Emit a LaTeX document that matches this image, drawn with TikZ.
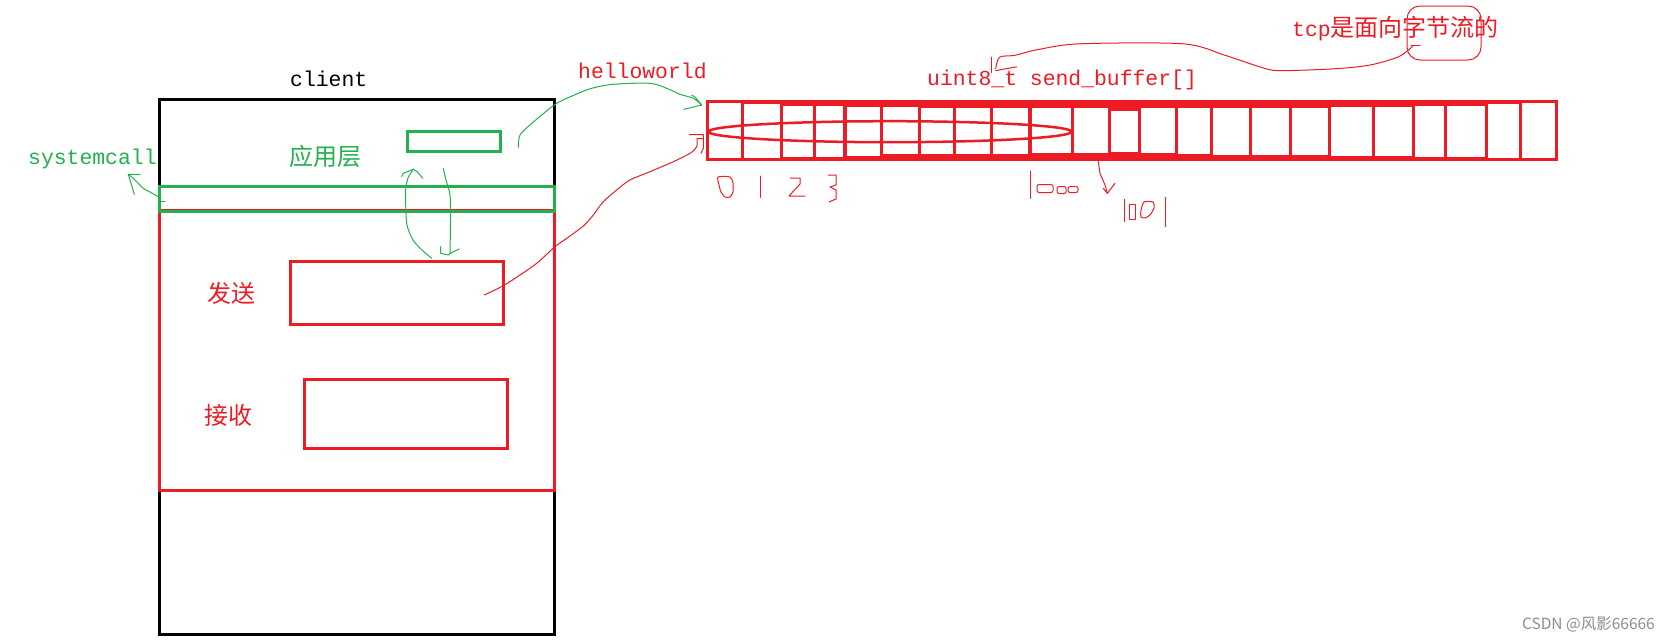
\documentclass[tikz,border=0pt]{standalone}
\usepackage{fontspec}
\setmainfont{Liberation Serif}
\newfontfamily\mono{Liberation Mono}
\newfontfamily\cjk{Noto Sans CJK SC}
\usetikzlibrary{shapes.geometric}
\definecolor{pred}{HTML}{ED1C24}
\definecolor{pgreen}{HTML}{22B14C}
\definecolor{wmgray}{HTML}{8C8C8C}
\begin{document}
\begin{tikzpicture}[x=1pt,y=-1pt,
  monotext/.style={font=\mono\fontsize{21.4}{24}\selectfont, inner sep=0pt, anchor=base west},
  cjktext/.style={font=\cjk\fontsize{24}{28}\selectfont, inner sep=0pt},
  frame/.style={draw, line width=3pt, inner sep=0pt, outer sep=0pt, anchor=north west},
  hand/.style={line width=1pt, line join=round, line cap=round},
]
\useasboundingbox (0,0) rectangle (1671,643);

% client box and layers
\node[frame, draw=black, minimum width=395pt, minimum height=535pt] (client) at (159,99) {};
\node[frame, draw=pred, minimum width=395pt, minimum height=280pt] (kernel) at (159,210.5) {};
\node[frame, draw=pgreen, minimum width=395pt, minimum height=25pt] (band) at (159,186) {};
\node[frame, draw=pgreen, minimum width=93pt, minimum height=20pt] (app) at (407,131) {};
\node[frame, draw=pred, minimum width=213pt, minimum height=63pt] (send) at (290,261) {};
\node[frame, draw=pred, minimum width=203pt, minimum height=69pt] (recv) at (304,379) {};

% texts
\node[monotext, text=black] (clientlbl) at (290,86) {client};
\node[monotext, text=pgreen] (syscall) at (28,164) {systemcall};
\node[monotext, text=pred] (hello) at (578,78) {helloworld};
\node[monotext, text=pred] (bufname) at (927,85) {uint8\_t send\_buffer[]};
\node[monotext, text=pred] (tcp) at (1292,36) {tcp{\cjk\fontsize{24}{28}\selectfont 是面向字节流的}};
\node[cjktext, text=pgreen] (applbl) at (325,156) {应用层};
\node[cjktext, text=pred] (sendlbl) at (231,293.5) {发送};
\node[cjktext, text=pred] (recvlbl) at (228,415.5) {接收};
\node[font=\cjk\fontsize{15.5}{18}\selectfont, text=wmgray, inner sep=0pt, anchor=east] (wm) at (1655,624) {CSDN @风影66666};

% send buffer
\node[fill=pred, inner sep=0pt, outer sep=0pt, anchor=north west, minimum width=852pt, minimum height=61pt] (buf) at (706,100) {};
\foreach \xa/\xb/\ta/\tb in {
  709.3/741/103.3/157.7, 744/780/104/157.7, 783.3/813.3/106/156.7, 816/843.3/106/156.7,
  846.7/880/107.3/155.7, 883.3/917.7/107.3/154.3, 920.7/952.7/108.3/154.3, 955.7/990/108.3/154.3,
  993.3/1028.3/108.3/154.3, 1032.3/1071/108.3/153.3, 1074.3/1108.3/108.3/153.3, 1111.3/1138.3/111/152.3,
  1141.3/1175/108.3/153.3, 1178/1210/108.3/154, 1212.7/1249/108.3/155, 1252/1289/108.3/155,
  1292/1328/108.3/155, 1331.3/1371.7/107.3/156, 1375/1411.7/106.7/156, 1415.3/1444/106/156.7,
  1447/1485/106/156.7, 1488.3/1519/104/157.7, 1522.3/1555/103.3/157.7}
  \fill[white] (\xa,\ta) rectangle (\xb,\tb);
\node[ellipse, draw=pred, line width=2.5pt, minimum width=363pt, minimum height=21pt, inner sep=0pt] (ell) at (890,131.7) {};

% tcp circle
\node[draw=pred, hand, rounded corners=13pt, minimum width=74pt, minimum height=54pt, inner sep=0pt] (circ) at (1444,33) {};

% green: app -> buffer
\draw[hand, pgreen] plot[smooth, tension=0.5] coordinates {(518.3,147.3) (520,135) (530,125) (541.7,115) (556.7,103.3) (576.7,94) (591.7,88.3) (613.3,84.3) (650,83.3) (666.7,88.3) (680,94.3) (693.3,98.3) (701.7,105)};
\draw[hand, pgreen] (691.7,95) -- (695,97) -- (701.7,105) -- (684,109.3);

% red: send -> buffer
\draw[hand, pred] plot[smooth, tension=0.5] coordinates {(484.3,295) (503.3,285.7) (520,275) (536.7,263.3) (555,246.7) (566.7,238.3) (583.3,226) (593.3,215) (603.3,201.7) (616.7,190) (630,180) (650,171.7) (673.3,161.7) (690,153.3) (696.7,146.7) (697,138.3)};
\draw[hand, pred] (689.3,134.7) -- (703.3,134.7) -- (703.3,148.3) -- (701,153.3);
\draw[hand, pred] (697,138.3) -- (703.3,138.3);

% green double arrow app <-> send
\draw[hand, pgreen] plot[smooth, tension=0.5] coordinates {(431.7,258.3) (422,250) (413,240) (407,225) (405.7,205) (405.7,190) (408,178) (413.3,169.3)};
\draw[hand, pgreen] (401.7,176.7) -- (403.3,173.3) -- (413.3,169.3) -- (417.3,171.7) -- (422.7,178.3);
\draw[hand, pgreen] plot[smooth, tension=0.5] coordinates {(443.3,168.3) (446,180) (450,195) (450.5,220) (450,253.3)};
\draw[hand, pgreen] (440.7,246.7) -- (440.7,253.3) -- (448.3,255) -- (450,253.3) -- (459.3,249);

% systemcall arrow
\draw[hand, pgreen] plot[smooth, tension=0.5] coordinates {(158.3,196.7) (150,192) (143.3,188.3) (137,182) (133.3,178.3) (128.3,174.3)};
\draw[hand, pgreen] (140,174.3) -- (128.3,174.3) -- (131,183.3) -- (134.3,194.3);
\draw[hand, pgreen] (160,201) -- (165,201);

% tcp callout arrow
\draw[hand, pred] plot[smooth, tension=0.5] coordinates {(1412.8,45.8) (1409,49.6) (1397.5,57.2) (1370.7,64.9) (1336,68.7) (1278.9,70.6) (1259.7,66.8) (1225,55.3) (1183,43.8) (1079.9,43.8) (1037.8,49.6) (1014.8,55.3) (999.5,57.2) (995.7,68.7)};
\draw[hand, pred] (991.8,57) -- (991.8,72.5);
\draw[hand, pred] (995.7,70.6) -- (1016.7,66.8);
\draw[hand, pred] (1411,45.8) -- (1420,45.8);

% hand-written indices
\draw[hand, pred] plot[smooth cycle, tension=0.4] coordinates {(718,177) (730,177) (733,183) (733,192) (730,197) (725,197) (721,192) (719,185)};
\draw[hand, pred] (760,176) -- (760,197.3);
\draw[hand, pred] (790,178) -- (800,178) -- (800,184) -- (789,196) -- (805,196);
\draw[hand, pred] (828,175) -- (836,175) -- (836,185) -- (830,187) -- (836,190) -- (836,199) -- (829,202);
\draw[hand, pred] (1030.7,171) -- (1030.7,198.3);
\draw[hand, pred, rounded corners=2pt] (1037,184.5) rectangle (1053,192.5);
\draw[hand, pred, rounded corners=2pt] (1057,186.5) rectangle (1066,193.5);
\draw[hand, pred, rounded corners=2pt] (1068,186.5) rectangle (1078,192.5);
\draw[hand, pred] (1098.3,161.7) -- (1100,173.3) -- (1105,185) -- (1107.3,193.3);
\draw[hand, pred] (1103.3,188.3) -- (1107.3,193.3) -- (1115,183.3);
\draw[hand, pred] (1124.3,199.3) -- (1124.3,221.7);
\draw[hand, pred] (1129.3,204) rectangle (1135,219.3);
\draw[hand, pred] plot[smooth cycle, tension=0.4] coordinates {(1144,202) (1153,202) (1154,208) (1150,215) (1145,218) (1141,217) (1141,210)};
\draw[hand, pred] (1165.3,197.3) -- (1165.3,226.7);
\end{tikzpicture}
\end{document}
